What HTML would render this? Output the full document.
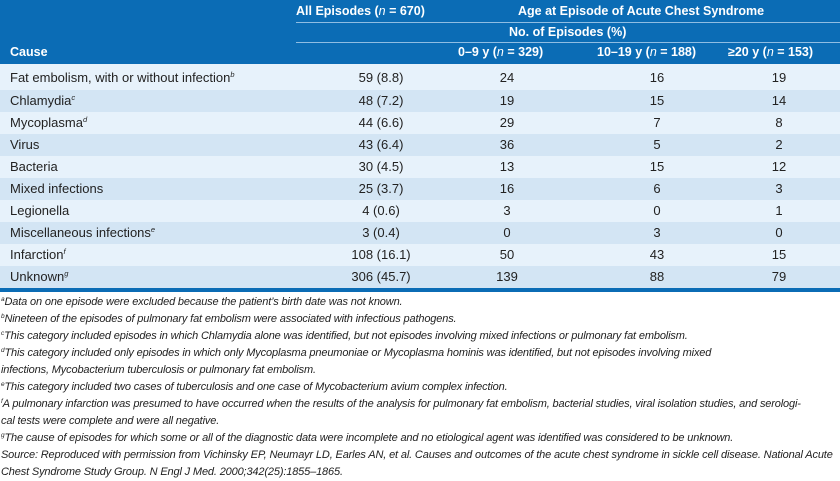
<!DOCTYPE html>
<html><head><meta charset="utf-8"><style>
body{margin:0;width:840px;height:481px;background:#fff;position:relative;overflow:hidden;font-family:"Liberation Sans",sans-serif;}
.hdr{position:absolute;left:0;top:0;width:840px;height:64px;background:#0b6cb5;}
.t{position:absolute;white-space:nowrap;}
.h{color:#fff;font-weight:bold;font-size:12.5px;}
.ln{position:absolute;left:296px;width:544px;height:1px;background:#8fbde3;}
.row{position:absolute;left:0;width:840px;}
.c{position:absolute;font-size:13px;color:#222;white-space:nowrap;transform:translateX(-50%);}
.l{position:absolute;left:10px;font-size:13px;color:#222;white-space:nowrap;}
sup{font-size:7.5px;font-style:italic;vertical-align:5px;}
.fn{position:absolute;left:1px;font-size:11px;font-style:italic;color:#222;white-space:nowrap;letter-spacing:-0.15px;}
.fn sup{font-size:6.5px;vertical-align:4px;}
</style></head><body>
<div class="hdr"></div>
<div class="ln" style="top:22px"></div>
<div class="ln" style="top:42px"></div>
<div class="t h" style="left:296px;top:4px">All Episodes (<i style="font-weight:normal">n</i> = 670)</div>
<div class="t h" style="left:518px;top:4px">Age at Episode of Acute Chest Syndrome</div>
<div class="t h" style="left:509px;top:25px">No. of Episodes (%)</div>
<div class="t h" style="left:458px;top:45px">0–9 y (<i style="font-weight:normal">n</i> = 329)</div>
<div class="t h" style="left:597px;top:45px">10–19 y (<i style="font-weight:normal">n</i> = 188)</div>
<div class="t h" style="left:728px;top:45px">≥20 y (<i style="font-weight:normal">n</i> = 153)</div>
<div class="t h" style="left:10px;top:45px">Cause</div>

<div class="row" style="top:64px;height:26px;background:#e7f2fb"></div>
<div class="row" style="top:90px;height:22px;background:#d3e5f4"></div>
<div class="row" style="top:112px;height:22px;background:#e7f2fb"></div>
<div class="row" style="top:134px;height:22px;background:#d3e5f4"></div>
<div class="row" style="top:156px;height:22px;background:#e7f2fb"></div>
<div class="row" style="top:178px;height:22px;background:#d3e5f4"></div>
<div class="row" style="top:200px;height:22px;background:#e7f2fb"></div>
<div class="row" style="top:222px;height:22px;background:#d3e5f4"></div>
<div class="row" style="top:244px;height:22px;background:#e7f2fb"></div>
<div class="row" style="top:266px;height:22px;background:#d3e5f4"></div>
<div class="row" style="top:288px;height:4px;background:#0b6cb5"></div>

<div style="position:absolute;top:70px;left:0;width:840px">
<div class="l" style="top:0">Fat embolism, with or without infection<sup>b</sup></div><div class="c" style="left:381px;top:0">59 (8.8)</div><div class="c" style="left:507px;top:0">24</div><div class="c" style="left:657px;top:0">16</div><div class="c" style="left:779px;top:0">19</div>
<div class="l" style="top:23px">Chlamydia<sup>c</sup></div><div class="c" style="left:381px;top:23px">48 (7.2)</div><div class="c" style="left:507px;top:23px">19</div><div class="c" style="left:657px;top:23px">15</div><div class="c" style="left:779px;top:23px">14</div>
<div class="l" style="top:45px">Mycoplasma<sup>d</sup></div><div class="c" style="left:381px;top:45px">44 (6.6)</div><div class="c" style="left:507px;top:45px">29</div><div class="c" style="left:657px;top:45px">7</div><div class="c" style="left:779px;top:45px">8</div>
<div class="l" style="top:67px">Virus</div><div class="c" style="left:381px;top:67px">43 (6.4)</div><div class="c" style="left:507px;top:67px">36</div><div class="c" style="left:657px;top:67px">5</div><div class="c" style="left:779px;top:67px">2</div>
<div class="l" style="top:89px">Bacteria</div><div class="c" style="left:381px;top:89px">30 (4.5)</div><div class="c" style="left:507px;top:89px">13</div><div class="c" style="left:657px;top:89px">15</div><div class="c" style="left:779px;top:89px">12</div>
<div class="l" style="top:111px">Mixed infections</div><div class="c" style="left:381px;top:111px">25 (3.7)</div><div class="c" style="left:507px;top:111px">16</div><div class="c" style="left:657px;top:111px">6</div><div class="c" style="left:779px;top:111px">3</div>
<div class="l" style="top:133px">Legionella</div><div class="c" style="left:381px;top:133px">4 (0.6)</div><div class="c" style="left:507px;top:133px">3</div><div class="c" style="left:657px;top:133px">0</div><div class="c" style="left:779px;top:133px">1</div>
<div class="l" style="top:155px">Miscellaneous infections<sup>e</sup></div><div class="c" style="left:381px;top:155px">3 (0.4)</div><div class="c" style="left:507px;top:155px">0</div><div class="c" style="left:657px;top:155px">3</div><div class="c" style="left:779px;top:155px">0</div>
<div class="l" style="top:177px">Infarction<sup>f</sup></div><div class="c" style="left:381px;top:177px">108 (16.1)</div><div class="c" style="left:507px;top:177px">50</div><div class="c" style="left:657px;top:177px">43</div><div class="c" style="left:779px;top:177px">15</div>
<div class="l" style="top:199px">Unknown<sup>g</sup></div><div class="c" style="left:381px;top:199px">306 (45.7)</div><div class="c" style="left:507px;top:199px">139</div><div class="c" style="left:657px;top:199px">88</div><div class="c" style="left:779px;top:199px">79</div>
</div>

<div class="fn" style="top:296px"><sup>a</sup>Data on one episode were excluded because the patient’s birth date was not known.</div>
<div class="fn" style="top:313px"><sup>b</sup>Nineteen of the episodes of pulmonary fat embolism were associated with infectious pathogens.</div>
<div class="fn" style="top:330px"><sup>c</sup>This category included episodes in which Chlamydia alone was identified, but not episodes involving mixed infections or pulmonary fat embolism.</div>
<div class="fn" style="top:347px"><sup>d</sup>This category included only episodes in which only Mycoplasma pneumoniae or Mycoplasma hominis was identified, but not episodes involving mixed</div>
<div class="fn" style="top:364px">infections, Mycobacterium tuberculosis or pulmonary fat embolism.</div>
<div class="fn" style="top:381px"><sup>e</sup>This category included two cases of tuberculosis and one case of Mycobacterium avium complex infection.</div>
<div class="fn" style="top:398px"><sup>f</sup>A pulmonary infarction was presumed to have occurred when the results of the analysis for pulmonary fat embolism, bacterial studies, viral isolation studies, and serologi-</div>
<div class="fn" style="top:415px">cal tests were complete and were all negative.</div>
<div class="fn" style="top:432px"><sup>g</sup>The cause of episodes for which some or all of the diagnostic data were incomplete and no etiological agent was identified was considered to be unknown.</div>
<div class="fn" style="top:449px">Source: Reproduced with permission from Vichinsky EP, Neumayr LD, Earles AN, et al. Causes and outcomes of the acute chest syndrome in sickle cell disease. National Acute</div>
<div class="fn" style="top:466px">Chest Syndrome Study Group. N Engl J Med. 2000;342(25):1855–1865.</div>
</body></html>
